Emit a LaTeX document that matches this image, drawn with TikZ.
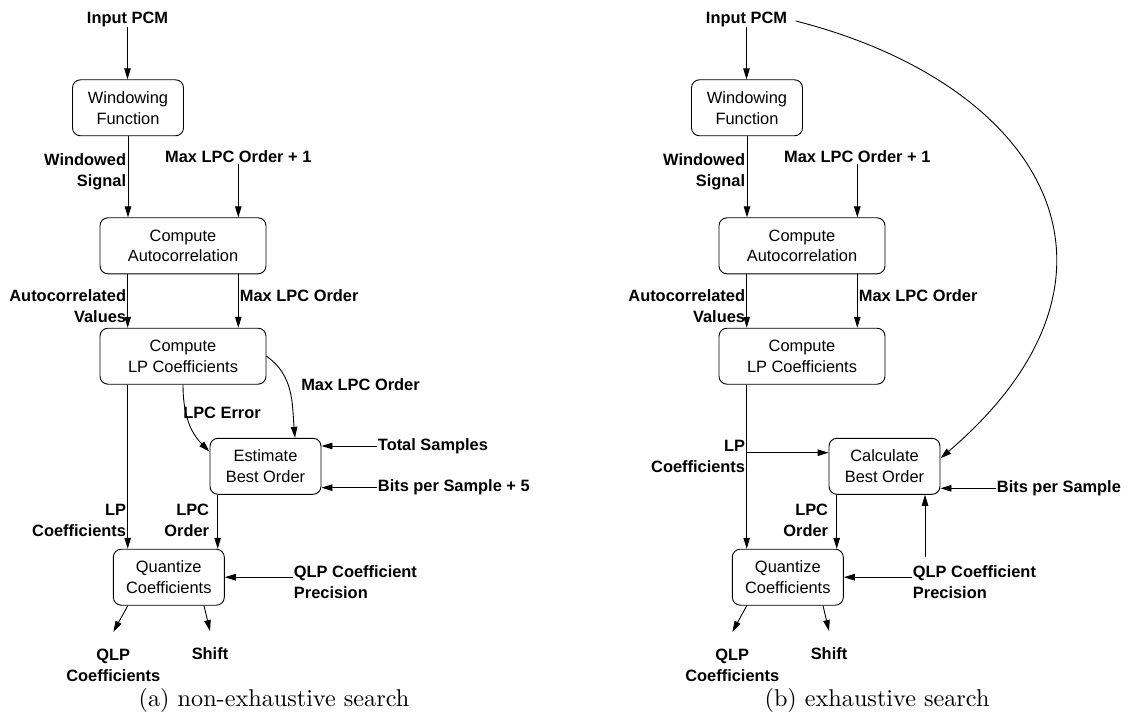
\documentclass[tikz,border=0pt]{standalone}
\usepackage{fontspec}
\newfontfamily\helv{Liberation Sans}
\newfontfamily\capfont{lmroman10-regular.otf}
\usetikzlibrary{arrows.meta}

\tikzset{
  proc/.style={draw, rounded corners=8pt, minimum width=111pt, minimum height=56pt,
    align=center, inner sep=2pt, font=\helv\fontsize{16.4}{20.7}\selectfont},
  wideproc/.style={proc, minimum width=166pt},
  lbl/.style={inner sep=0.5pt, font=\helv\bfseries\fontsize{16.4}{20.7}\selectfont},
  flow/.style={-{Triangle[length=11pt,width=6.5pt]}},
  capt/.style={inner sep=0pt, font=\capfont\fontsize{24.2}{29}\selectfont}
}

\begin{document}
\begin{tikzpicture}[x=1pt, y=-1pt, line width=0.9pt]
\useasboundingbox (0,0) rectangle (1131,719);

% (a) non-exhaustive search
\node[lbl] (pcmA) at (127.5,19) {Input PCM};
\node[proc] (winA) at (128,107.8) {Windowing\\Function};
\node[wideproc] (acA) at (183,245.8) {Compute\\Autocorrelation};
\node[wideproc] (lpA) at (183,356.2) {Compute\\LP Coefficients};
\node[proc] (estA) at (265.5,466.3) {Estimate\\Best Order};
\node[proc] (qzA) at (168.8,577.2) {Quantize\\Coefficients};

\node[lbl, align=right, anchor=east] (wsigA) at (127,172) {Windowed\\Signal};
\node[lbl] (mo1A) at (238.3,156.7) {Max LPC Order + 1};
\node[lbl, align=right, anchor=east] (acvA) at (127,306.2) {Autocorrelated\\Values};
\node[lbl, anchor=west] (moA) at (239,295.7) {Max LPC Order};
\node[lbl] (errA) at (222,413.3) {LPC Error};
\node[lbl] (mo2A) at (360.5,385) {Max LPC Order};
\node[lbl, anchor=west] (tsA) at (377,446) {Total Samples};
\node[lbl, anchor=west] (bpsA) at (377,487.7) {Bits per Sample + 5};
\node[lbl, align=right, anchor=east] (lpcA) at (127,520.3) {LP\\Coefficients};
\node[lbl, align=right, anchor=east] (ordA) at (210,520) {LPC\\Order};
\node[lbl, align=left, anchor=west] (qlpA) at (293,582) {QLP Coefficient\\Precision};
\node[lbl, align=center] (qlpcA) at (113.3,665) {QLP\\Coefficients};
\node[lbl] (shA) at (210,654) {Shift};
\node[capt] (capA) at (274,700) {(a) non-exhaustive search};

\coordinate (brA) at ([xshift=-55.3pt]lpA.south);

\draw[flow] (pcmA.south) -- (pcmA.south |- winA.north);
\draw[flow] (winA.south) -- (winA.south |- acA.north);
\draw[flow] (mo1A.south) -- (mo1A.south |- acA.north);
\draw[flow] ([xshift=-55.3pt]acA.south) -- ([xshift=-55.3pt]lpA.north);
\draw[flow] ([xshift=55.3pt]acA.south) -- ([xshift=55.3pt]lpA.north);
\draw[flow] (lpA.south) to[out=-90, in=135] ([yshift=14.6pt]estA.west);
\draw[flow] (lpA.east) to[out=-35, in=95] ([xshift=29.5pt]estA.north);
\draw[flow] (tsA.west) -- (tsA.west -| estA.east);
\draw[flow] (bpsA.west) -- (bpsA.west -| estA.east);
\draw[flow] (brA) -- (brA |- qzA.north);
\draw[flow] ([xshift=-47.8pt]estA.south) -- ([xshift=-47.8pt]estA.south |- qzA.north);
\draw[flow] (qlpA.west |- qzA.east) -- (qzA.east);
\draw[flow] ([xshift=-41pt]qzA.south) -- ([yshift=16pt]qlpcA.north);
\draw[flow] ([xshift=35.2pt]qzA.south) -- ([yshift=16pt]shA.north);

% (b) exhaustive search
\begin{scope}[xshift=619pt]
\node[lbl] (pcmB) at (127.5,19) {Input PCM};
\node[proc] (winB) at (128,107.8) {Windowing\\Function};
\node[wideproc] (acB) at (183,245.8) {Compute\\Autocorrelation};
\node[wideproc] (lpB) at (183,356.2) {Compute\\LP Coefficients};
\node[proc] (calcB) at (265.5,466.3) {Calculate\\Best Order};
\node[proc] (qzB) at (168.8,577.2) {Quantize\\Coefficients};

\node[lbl, align=right, anchor=east] (wsigB) at (127,172) {Windowed\\Signal};
\node[lbl] (mo1B) at (238.3,156.7) {Max LPC Order + 1};
\node[lbl, align=right, anchor=east] (acvB) at (127,306.2) {Autocorrelated\\Values};
\node[lbl, anchor=west] (moB) at (239,295.7) {Max LPC Order};
\node[lbl, align=right, anchor=east] (lpcB) at (127,456.5) {LP\\Coefficients};
\node[lbl, anchor=west] (bpsB) at (377,488.3) {Bits per Sample};
\node[lbl, align=right, anchor=east] (ordB) at (210,520) {LPC\\Order};
\node[lbl, align=left, anchor=west] (qlpB) at (293,582) {QLP Coefficient\\Precision};
\node[lbl, align=center] (qlpcB) at (113.3,665) {QLP\\Coefficients};
\node[lbl] (shB) at (210,654) {Shift};
\node[capt] (capB) at (258,700) {(b) exhaustive search};

\coordinate (brB) at ([xshift=-55.3pt]lpB.south);
\coordinate (lpinB) at ([yshift=13.6pt]calcB.west);
\coordinate (upB) at ([xshift=40.5pt]calcB.south);

\draw[flow] (pcmB.south) -- (pcmB.south |- winB.north);
\draw[flow] (winB.south) -- (winB.south |- acB.north);
\draw[flow] (mo1B.south) -- (mo1B.south |- acB.north);
\draw[flow] ([xshift=-55.3pt]acB.south) -- ([xshift=-55.3pt]lpB.north);
\draw[flow] ([xshift=55.3pt]acB.south) -- ([xshift=55.3pt]lpB.north);
\draw[flow] (brB) -- (brB |- qzB.north);
\draw[flow] (brB |- lpinB) -- (lpinB);
\draw[flow, shorten <=8pt] (pcmB.east) .. controls +(258,66) and +(214,-183) .. ([yshift=8pt]calcB.east);
\draw[flow] (bpsB.west) -- (bpsB.west -| calcB.east);
\draw[flow] ([xshift=-47.8pt]calcB.south) -- ([xshift=-47.8pt]calcB.south |- qzB.north);
\draw[flow] (qlpB.west |- qzB.east) -- (qzB.east);
\draw[flow, shorten <=8pt] (upB |- qlpB.north) -- (upB);
\draw[flow] ([xshift=-41pt]qzB.south) -- ([yshift=16pt]qlpcB.north);
\draw[flow] ([xshift=35.2pt]qzB.south) -- ([yshift=16pt]shB.north);
\end{scope}

\end{tikzpicture}
\end{document}
